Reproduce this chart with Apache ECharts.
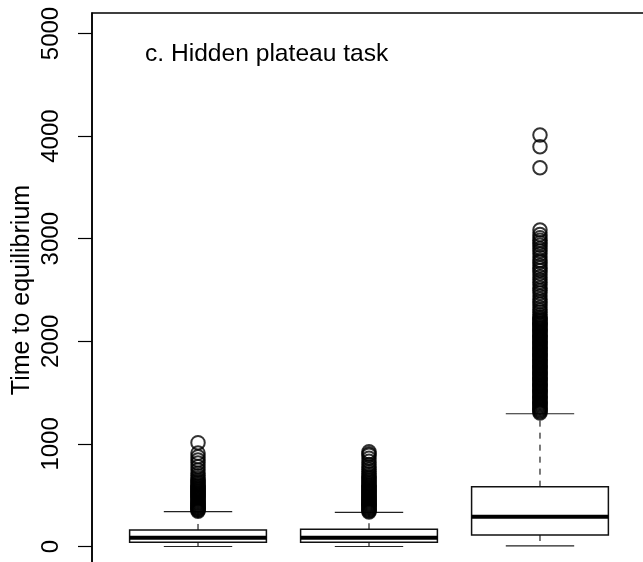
<!DOCTYPE html>
<html>
<head>
<meta charset="utf-8">
<title>Time to equilibrium</title>
<script src="https://cdn.jsdelivr.net/npm/echarts@6/dist/echarts.min.js"></script>
<style>
  html, body { margin: 0; padding: 0; background: #ffffff; }
  #chart { width: 643px; height: 562px; }
</style>
</head>
<body>
<div id="chart"></div>
<script>
// Group positions along the x axis
const groups = [1, 2, 3];

// Five-number summaries per group
const lowerWhisker = [0, 0, 5];
const q1 = [41, 41, 112];
const median = [86, 86, 290];
const q3 = [161, 168, 583];
const upperWhisker = [339, 333, 1294];

// Outlying observations per group
const outliers1 = [
  344, 352, 361, 370, 378, 387, 396, 405, 414, 423, 432, 441, 450, 460,
  469, 478, 487, 497, 506, 516, 525, 535, 545, 555, 566, 576, 587, 598,
  610, 622, 634, 647, 667, 690, 713, 746, 778, 813, 843, 875, 910, 1012
];
const outliers2 = [
  336, 345, 354, 363, 372, 381, 390, 399, 408, 417, 427, 436, 445, 455,
  464, 474, 483, 493, 503, 513, 523, 533, 544, 554, 565, 576, 587, 598,
  610, 622, 635, 648, 662, 676, 690, 708, 728, 750, 775, 800, 830, 860,
  890, 905, 924
];
const outliers3 = [
  1302, 1314, 1325, 1337, 1349, 1360, 1372, 1384, 1395, 1407, 1419, 1430,
  1442, 1454, 1465, 1477, 1489, 1500, 1512, 1524, 1535, 1547, 1559, 1570,
  1582, 1594, 1605, 1617, 1629, 1640, 1652, 1664, 1675, 1687, 1699, 1710,
  1722, 1734, 1745, 1757, 1769, 1780, 1792, 1804, 1815, 1827, 1839, 1850,
  1862, 1874, 1885, 1897, 1909, 1920, 1932, 1944, 1955, 1967, 1979, 1990,
  2002, 2014, 2025, 2037, 2049, 2060, 2072, 2084, 2095, 2107, 2119, 2130,
  2142, 2154, 2165, 2177, 2189, 2200, 2212, 2225, 2240, 2258, 2285, 2305,
  2330, 2360, 2385, 2410, 2440, 2470, 2495, 2520, 2550, 2575, 2600, 2630,
  2660, 2690, 2715, 2740, 2770, 2790, 2820, 2850, 2880, 2905, 2935, 2960,
  2985, 3010, 3040, 3085, 3692, 3897, 4010
];

// Y axis tick values
const yTicks = [0, 1000, 2000, 3000, 4000, 5000];

const FONT = 'Liberation Sans, Arial, Helvetica, sans-serif';

const boxData = groups.map((g, i) => [g, lowerWhisker[i], q1[i], median[i], q3[i], upperWhisker[i]]);
const outlierData = []
  .concat(outliers1.map(v => [groups[0], v]))
  .concat(outliers2.map(v => [groups[1], v]))
  .concat(outliers3.map(v => [groups[2], v]));

const BOX_HALF = 0.4;     // half box width in x units
const STAPLE_HALF = 0.2;  // half whisker-cap width in x units

function renderBox(params, api) {
  const x = api.value(0);
  const lo = api.value(1), b1 = api.value(2), md = api.value(3), b3 = api.value(4), hi = api.value(5);
  const tl = api.coord([x - BOX_HALF, b3]);
  const br = api.coord([x + BOX_HALF, b1]);
  const mL = api.coord([x - BOX_HALF, md]);
  const mR = api.coord([x + BOX_HALF, md]);
  const c3 = api.coord([x, b3]);
  const c1 = api.coord([x, b1]);
  const cHi = api.coord([x, hi]);
  const cLo = api.coord([x, lo]);
  const sHiL = api.coord([x - STAPLE_HALF, hi]);
  const sHiR = api.coord([x + STAPLE_HALF, hi]);
  const sLoL = api.coord([x - STAPLE_HALF, lo]);
  const sLoR = api.coord([x + STAPLE_HALF, lo]);
  const thin = { stroke: '#222', lineWidth: 1.2 };
  const dashed = { stroke: '#222', lineWidth: 1.2, lineDash: [6, 6] };
  return {
    type: 'group',
    children: [
      { type: 'line', shape: { x1: c3[0], y1: c3[1], x2: cHi[0], y2: cHi[1] }, style: dashed },
      { type: 'line', shape: { x1: c1[0], y1: c1[1], x2: cLo[0], y2: cLo[1] }, style: dashed },
      { type: 'line', shape: { x1: sHiL[0], y1: sHiL[1], x2: sHiR[0], y2: sHiR[1] }, style: thin },
      { type: 'line', shape: { x1: sLoL[0], y1: sLoL[1], x2: sLoR[0], y2: sLoR[1] }, style: thin },
      { type: 'rect', shape: { x: tl[0], y: tl[1], width: br[0] - tl[0], height: br[1] - tl[1] },
        style: { fill: 'none', stroke: '#111', lineWidth: 1.5 } },
      { type: 'line', shape: { x1: mL[0], y1: mL[1], x2: mR[0], y2: mR[1] },
        style: { stroke: '#000', lineWidth: 4 } }
    ]
  };
}

const chart = echarts.init(document.getElementById('chart'), null, { renderer: 'canvas' });

chart.setOption({
  animation: false,
  backgroundColor: '#ffffff',
  title: {
    text: 'c. Hidden plateau task',
    left: 145,
    top: 42,
    padding: 0,
    textStyle: { fontFamily: FONT, fontSize: 24.6, fontWeight: 'normal', color: '#000' }
  },
  grid: {
    left: 92,
    top: 13,
    width: 554,
    height: 554,
    show: true,
    borderColor: '#000',
    borderWidth: 1.5,
    backgroundColor: 'transparent',
    containLabel: false,
    outerBoundsMode: 'none'
  },
  xAxis: {
    type: 'value',
    min: 0.38,
    max: 3.62,
    show: false
  },
  yAxis: {
    type: 'value',
    min: -200,
    max: 5200,
    name: 'Time to equilibrium',
    nameLocation: 'middle',
    nameRotate: 90,
    nameGap: 57,
    nameMoveOverlap: false,
    nameTextStyle: { fontFamily: FONT, fontSize: 25, color: '#000' },
    axisLine: { show: true, lineStyle: { color: '#000', width: 1.5 } },
    axisTick: {
      show: true,
      length: 14,
      customValues: yTicks,
      lineStyle: { color: '#000', width: 1.2 }
    },
    axisLabel: {
      show: true,
      rotate: 90,
      margin: 29,
      customValues: yTicks,
      formatter: v => String(v),
      fontFamily: FONT,
      fontSize: 24,
      color: '#000'
    },
    splitLine: { show: false }
  },
  series: [
    {
      type: 'custom',
      renderItem: renderBox,
      data: boxData,
      encode: { x: 0, y: [1, 2, 3, 4, 5] },
      silent: true
    },
    {
      type: 'scatter',
      data: outlierData,
      symbol: 'circle',
      symbolSize: 13.5,
      itemStyle: { color: 'rgba(0,0,0,0)', borderColor: '#000', borderWidth: 2 },
      silent: true
    }
  ]
});
</script>
</body>
</html>
